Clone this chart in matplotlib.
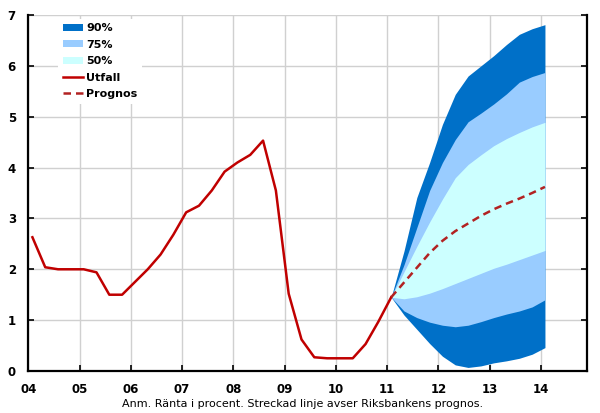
import matplotlib
matplotlib.use("Agg")
import matplotlib.pyplot as plt
from matplotlib.patches import Patch
from matplotlib.lines import Line2D
import numpy as np

plt.rcParams['font.family'] = ['DejaVu Sans']

# Quarterly data, first quarter 2004 onwards
start_year = 2004
quarter_offset = 0.08
utfall = [2.63, 2.04, 2.0, 2.0, 2.0, 1.94, 1.5, 1.5, 1.75, 2.0, 2.29, 2.68,
          3.12, 3.25, 3.55, 3.92, 4.1, 4.25, 4.53, 3.55, 1.52, 0.62, 0.27,
          0.25, 0.25, 0.25, 0.53, 0.97, 1.45]
# Forecast starts at last outcome quarter (Q1 2011)
prognos = [1.45, 1.74, 2.03, 2.32, 2.56, 2.75, 2.90, 3.05, 3.18, 3.29, 3.39, 3.50, 3.62]
u90 = [1.45, 2.36, 3.41, 4.10, 4.85, 5.44, 5.80, 6.00, 6.20, 6.42, 6.62, 6.73, 6.81]
u75 = [1.45, 2.09, 2.82, 3.55, 4.10, 4.55, 4.90, 5.07, 5.25, 5.45, 5.68, 5.79, 5.87]
u50 = [1.45, 1.95, 2.45, 2.93, 3.38, 3.80, 4.06, 4.25, 4.43, 4.57, 4.69, 4.80, 4.89]
l50 = [1.45, 1.42, 1.46, 1.53, 1.62, 1.72, 1.82, 1.92, 2.02, 2.10, 2.19, 2.28, 2.37]
l75 = [1.45, 1.18, 1.05, 0.96, 0.90, 0.87, 0.90, 0.97, 1.05, 1.12, 1.18, 1.26, 1.40]
l90 = [1.45, 1.10, 0.82, 0.54, 0.29, 0.12, 0.07, 0.10, 0.16, 0.20, 0.25, 0.33, 0.46]

year_ticks = list(range(2004, 2015))
year_labels = ['04', '05', '06', '07', '08', '09', '10', '11', '12', '13', '14']
y_ticks = [0, 1, 2, 3, 4, 5, 6, 7]

x_out = start_year + quarter_offset + 0.25 * np.arange(len(utfall))
x_fc = start_year + quarter_offset + 0.25 * (len(utfall) - 1 + np.arange(len(prognos)))

c90 = '#0070C8'
c75 = '#99CCFF'
c50 = '#CCFFFF'
cred = '#C00000'
cdash = '#B22222'

fig = plt.figure(figsize=(6.0, 4.13), dpi=100)
ax = fig.add_axes([0.0472, 0.1017, 0.9311, 0.8620])

ax.fill_between(x_fc, l90, u90, color=c90, lw=0, zorder=2)
ax.fill_between(x_fc, l75, u75, color=c75, lw=0, zorder=3)
ax.fill_between(x_fc, l50, u50, color=c50, lw=0, zorder=4)
ax.plot(x_out, utfall, color=cred, lw=1.8, zorder=5, solid_joinstyle='round')
ax.plot(x_fc, prognos, color=cdash, lw=1.8, dashes=(3, 2), zorder=6)

ax.set_xlim(2004, 2014.9)
ax.set_ylim(0, 7)
ax.set_xticks(year_ticks)
ax.set_xticklabels(year_labels, fontweight='bold', fontsize=8.5)
ax.set_yticks(y_ticks)
ax.set_yticklabels([str(v) for v in y_ticks], fontweight='bold', fontsize=8.5)
ax.grid(True, color='#D0D0D0', lw=1.0, zorder=0)
ax.set_axisbelow(True)

for s in ['left', 'bottom', 'right']:
    ax.spines[s].set_linewidth(1.6)
    ax.spines[s].set_color('black')
ax.spines['top'].set_visible(False)
ax.tick_params(axis='both', direction='in', length=4, width=1.2, colors='black')
ax.tick_params(axis='y', right=True, labelright=False, pad=9)
ax.tick_params(axis='x', pad=9)

handles = [Patch(facecolor=c90, edgecolor='none', label='90%'),
           Patch(facecolor=c75, edgecolor='none', label='75%'),
           Patch(facecolor=c50, edgecolor='none', label='50%'),
           Line2D([], [], color=cred, lw=1.8, label='Utfall'),
           Line2D([], [], color=cdash, lw=1.8, dashes=(3, 2), label='Prognos')]
leg = ax.legend(handles=handles, loc='upper left', bbox_to_anchor=(0.054, 0.99),
                borderaxespad=0, frameon=True, facecolor='white', edgecolor='none',
                framealpha=1, fancybox=False, handlelength=1.8, handleheight=0.6,
                handletextpad=0.3, labelspacing=0.59,
                prop={'weight': 'bold', 'size': 8})
leg.set_zorder(10)

fig.text(0.505, 1 - 404 / 413, 'Anm. Ränta i procent. Streckad linje avser Riksbankens prognos.',
         ha='center', va='center', fontsize=8)

fig.savefig('out.png', dpi=100)
